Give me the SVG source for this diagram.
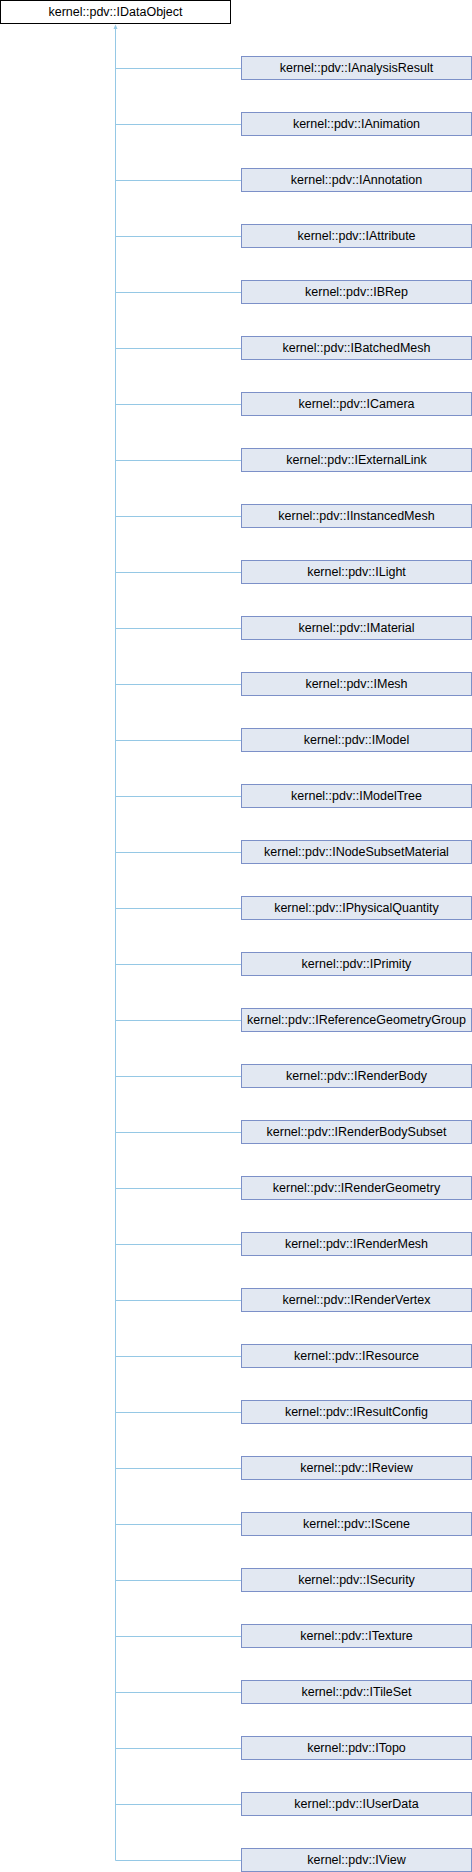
<svg xmlns="http://www.w3.org/2000/svg" width="472" height="1872" viewBox="0 0 472 1872">
<style>
.n{fill:#E2E8F2;stroke:#7C90C8;stroke-width:1}
.r{fill:#FFFFFF;stroke:#000000;stroke-width:1}
.t{font-family:"Liberation Sans",Arial,sans-serif;font-size:12.5px;fill:#000;text-anchor:middle}
.e{stroke:#95C8E5;stroke-width:1;fill:none}
</style>
<rect width="472" height="1872" fill="#fff"/>
<g id="IDataObject"><rect class="r" x="0.5" y="0.5" width="230" height="23"/><text class="t" x="115.5" y="15.5">kernel::pdv::IDataObject</text></g>
<g id="connectors">
<path class="e" d="M115.5 28 V1860.5"/>
<polygon points="115.5,24.5 113.5,29 117.5,29" fill="#95C8E5"/>
<path class="e" d="M115.5 68.5H241.5M115.5 124.5H241.5M115.5 180.5H241.5M115.5 236.5H241.5M115.5 292.5H241.5M115.5 348.5H241.5M115.5 404.5H241.5M115.5 460.5H241.5M115.5 516.5H241.5M115.5 572.5H241.5M115.5 628.5H241.5M115.5 684.5H241.5M115.5 740.5H241.5M115.5 796.5H241.5M115.5 852.5H241.5M115.5 908.5H241.5M115.5 964.5H241.5M115.5 1020.5H241.5M115.5 1076.5H241.5M115.5 1132.5H241.5M115.5 1188.5H241.5M115.5 1244.5H241.5M115.5 1300.5H241.5M115.5 1356.5H241.5M115.5 1412.5H241.5M115.5 1468.5H241.5M115.5 1524.5H241.5M115.5 1580.5H241.5M115.5 1636.5H241.5M115.5 1692.5H241.5M115.5 1748.5H241.5M115.5 1804.5H241.5M115.5 1860.5H241.5"/>
</g>
<g id="IAnalysisResult"><rect class="n" x="241.5" y="56.5" width="230" height="23"/><text class="t" x="356.5" y="71.5">kernel::pdv::IAnalysisResult</text></g>
<g id="IAnimation"><rect class="n" x="241.5" y="112.5" width="230" height="23"/><text class="t" x="356.5" y="127.5">kernel::pdv::IAnimation</text></g>
<g id="IAnnotation"><rect class="n" x="241.5" y="168.5" width="230" height="23"/><text class="t" x="356.5" y="183.5">kernel::pdv::IAnnotation</text></g>
<g id="IAttribute"><rect class="n" x="241.5" y="224.5" width="230" height="23"/><text class="t" x="356.5" y="239.5">kernel::pdv::IAttribute</text></g>
<g id="IBRep"><rect class="n" x="241.5" y="280.5" width="230" height="23"/><text class="t" x="356.5" y="295.5">kernel::pdv::IBRep</text></g>
<g id="IBatchedMesh"><rect class="n" x="241.5" y="336.5" width="230" height="23"/><text class="t" x="356.5" y="351.5">kernel::pdv::IBatchedMesh</text></g>
<g id="ICamera"><rect class="n" x="241.5" y="392.5" width="230" height="23"/><text class="t" x="356.5" y="407.5">kernel::pdv::ICamera</text></g>
<g id="IExternalLink"><rect class="n" x="241.5" y="448.5" width="230" height="23"/><text class="t" x="356.5" y="463.5">kernel::pdv::IExternalLink</text></g>
<g id="IInstancedMesh"><rect class="n" x="241.5" y="504.5" width="230" height="23"/><text class="t" x="356.5" y="519.5">kernel::pdv::IInstancedMesh</text></g>
<g id="ILight"><rect class="n" x="241.5" y="560.5" width="230" height="23"/><text class="t" x="356.5" y="575.5">kernel::pdv::ILight</text></g>
<g id="IMaterial"><rect class="n" x="241.5" y="616.5" width="230" height="23"/><text class="t" x="356.5" y="631.5">kernel::pdv::IMaterial</text></g>
<g id="IMesh"><rect class="n" x="241.5" y="672.5" width="230" height="23"/><text class="t" x="356.5" y="687.5">kernel::pdv::IMesh</text></g>
<g id="IModel"><rect class="n" x="241.5" y="728.5" width="230" height="23"/><text class="t" x="356.5" y="743.5">kernel::pdv::IModel</text></g>
<g id="IModelTree"><rect class="n" x="241.5" y="784.5" width="230" height="23"/><text class="t" x="356.5" y="799.5">kernel::pdv::IModelTree</text></g>
<g id="INodeSubsetMaterial"><rect class="n" x="241.5" y="840.5" width="230" height="23"/><text class="t" x="356.5" y="855.5">kernel::pdv::INodeSubsetMaterial</text></g>
<g id="IPhysicalQuantity"><rect class="n" x="241.5" y="896.5" width="230" height="23"/><text class="t" x="356.5" y="911.5">kernel::pdv::IPhysicalQuantity</text></g>
<g id="IPrimity"><rect class="n" x="241.5" y="952.5" width="230" height="23"/><text class="t" x="356.5" y="967.5">kernel::pdv::IPrimity</text></g>
<g id="IReferenceGeometryGroup"><rect class="n" x="241.5" y="1008.5" width="230" height="23"/><text class="t" x="356.5" y="1023.5">kernel::pdv::IReferenceGeometryGroup</text></g>
<g id="IRenderBody"><rect class="n" x="241.5" y="1064.5" width="230" height="23"/><text class="t" x="356.5" y="1079.5">kernel::pdv::IRenderBody</text></g>
<g id="IRenderBodySubset"><rect class="n" x="241.5" y="1120.5" width="230" height="23"/><text class="t" x="356.5" y="1135.5">kernel::pdv::IRenderBodySubset</text></g>
<g id="IRenderGeometry"><rect class="n" x="241.5" y="1176.5" width="230" height="23"/><text class="t" x="356.5" y="1191.5">kernel::pdv::IRenderGeometry</text></g>
<g id="IRenderMesh"><rect class="n" x="241.5" y="1232.5" width="230" height="23"/><text class="t" x="356.5" y="1247.5">kernel::pdv::IRenderMesh</text></g>
<g id="IRenderVertex"><rect class="n" x="241.5" y="1288.5" width="230" height="23"/><text class="t" x="356.5" y="1303.5">kernel::pdv::IRenderVertex</text></g>
<g id="IResource"><rect class="n" x="241.5" y="1344.5" width="230" height="23"/><text class="t" x="356.5" y="1359.5">kernel::pdv::IResource</text></g>
<g id="IResultConfig"><rect class="n" x="241.5" y="1400.5" width="230" height="23"/><text class="t" x="356.5" y="1415.5">kernel::pdv::IResultConfig</text></g>
<g id="IReview"><rect class="n" x="241.5" y="1456.5" width="230" height="23"/><text class="t" x="356.5" y="1471.5">kernel::pdv::IReview</text></g>
<g id="IScene"><rect class="n" x="241.5" y="1512.5" width="230" height="23"/><text class="t" x="356.5" y="1527.5">kernel::pdv::IScene</text></g>
<g id="ISecurity"><rect class="n" x="241.5" y="1568.5" width="230" height="23"/><text class="t" x="356.5" y="1583.5">kernel::pdv::ISecurity</text></g>
<g id="ITexture"><rect class="n" x="241.5" y="1624.5" width="230" height="23"/><text class="t" x="356.5" y="1639.5">kernel::pdv::ITexture</text></g>
<g id="ITileSet"><rect class="n" x="241.5" y="1680.5" width="230" height="23"/><text class="t" x="356.5" y="1695.5">kernel::pdv::ITileSet</text></g>
<g id="ITopo"><rect class="n" x="241.5" y="1736.5" width="230" height="23"/><text class="t" x="356.5" y="1751.5">kernel::pdv::ITopo</text></g>
<g id="IUserData"><rect class="n" x="241.5" y="1792.5" width="230" height="23"/><text class="t" x="356.5" y="1807.5">kernel::pdv::IUserData</text></g>
<g id="IView"><rect class="n" x="241.5" y="1848.5" width="230" height="23"/><text class="t" x="356.5" y="1863.5">kernel::pdv::IView</text></g>
</svg>
